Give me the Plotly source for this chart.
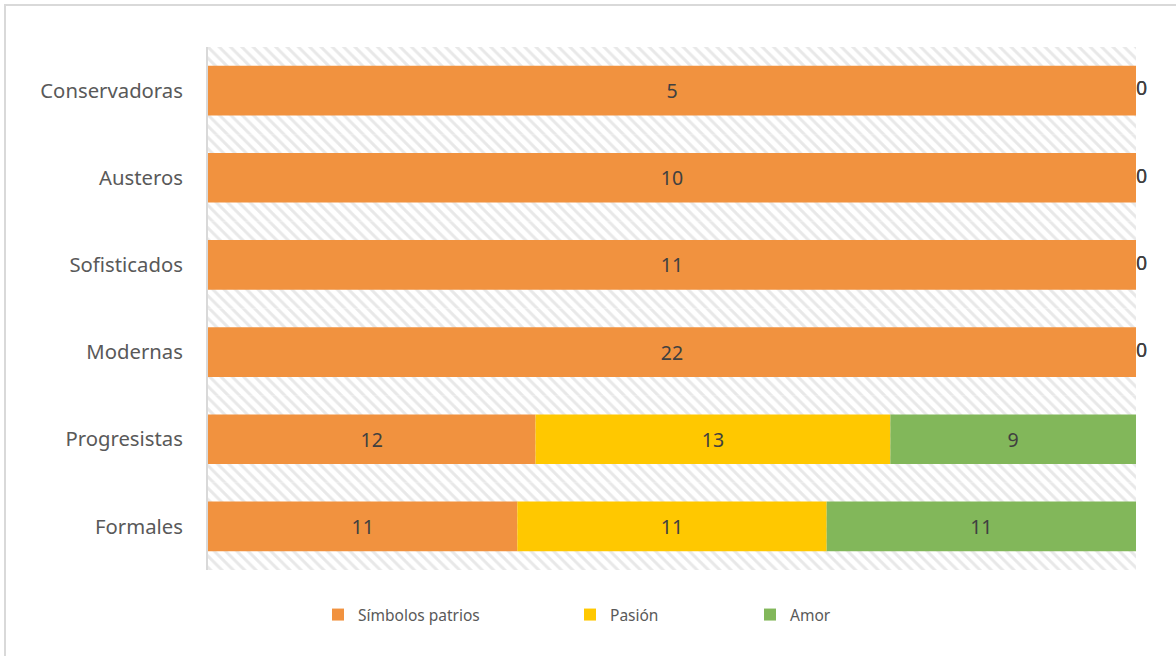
import plotly.graph_objects as go

# Segmentos de estilo y valores por asociación (barras 100 % apiladas)
categorias = ["Conservadoras", "Austeros", "Sofisticados", "Modernas", "Progresistas", "Formales"]
simbolos_patrios = [5, 10, 11, 22, 12, 11]
pasion = [0, 0, 0, 0, 13, 11]
amor = [0, 0, 0, 0, 9, 11]

series = [
    ("Símbolos patrios", simbolos_patrios, "#F1923F"),
    ("Pasión", pasion, "#FFC800"),
    ("Amor", amor, "#82B75A"),
]

texto_barras = "#404040"
texto_ejes = "#595959"
fuente = "Noto Sans"
totales = [sum(v) for v in zip(*[s[1] for s in series])]

fig = go.Figure()

# Fondo rayado del área de trazado
fig.add_trace(go.Bar(
    y=categorias, x=[1] * len(categorias), base=[0] * len(categorias),
    orientation="h", width=1.0, showlegend=False, hoverinfo="skip",
    marker=dict(color="white", line=dict(width=0),
                pattern=dict(shape="\\", fgcolor="#D2D2D2", bgcolor="white",
                             size=8, solidity=0.38)),
))

base = [0.0] * len(categorias)
ceros_x, ceros_y = [], []
leyendas = ["legend", "legend2", "legend3"]
for (nombre, valores, color), ley in zip(series, leyendas):
    frac = [v / t for v, t in zip(valores, totales)]
    fig.add_trace(go.Bar(
        y=categorias, x=frac, base=list(base), orientation="h", width=0.57,
        name=nombre, legend=ley,
        marker=dict(color=color, line=dict(width=0)),
        text=[str(v) if v > 0 else "" for v in valores],
        textposition="inside", insidetextanchor="middle",
        textfont=dict(family=fuente, size=19.5, color=texto_barras),
        hovertemplate="%{y}: %{text}<extra>" + nombre + "</extra>",
    ))
    for i, v in enumerate(valores):
        if v == 0:
            ceros_x.append(base[i] + frac[i])
            ceros_y.append(categorias[i])
    base = [b + f for b, f in zip(base, frac)]

# Etiquetas de los segmentos con valor cero
fig.add_trace(go.Scatter(
    x=ceros_x, y=ceros_y, mode="text", text=["0"] * len(ceros_x),
    textposition="middle right", cliponaxis=False, showlegend=False,
    textfont=dict(family=fuente, size=19.5, color=texto_barras), hoverinfo="skip",
))

leg = dict(orientation="h", yanchor="middle", xanchor="left", y=-0.086,
           font=dict(family=fuente, size=15.5, color=texto_ejes),
           bgcolor="rgba(0,0,0,0)", itemwidth=30)

fig.update_layout(
    width=1176, height=656,
    margin=dict(l=208, r=40, t=47, b=86),
    barmode="overlay",
    paper_bgcolor="white", plot_bgcolor="white",
    font=dict(family=fuente, size=17, color=texto_ejes),
    xaxis=dict(range=[0, 1], showgrid=False, zeroline=False,
               showticklabels=False, fixedrange=True),
    yaxis=dict(categoryorder="array", categoryarray=categorias[::-1],
               range=[-0.5, len(categorias) - 0.5],
               showgrid=False, zeroline=False, showline=True,
               linecolor="#D9D9D9", linewidth=2, ticks="", ticklabelstandoff=19,
               tickfont=dict(family=fuente, size=20.3, color=texto_ejes)),
    legend=dict(leg, x=(318 - 208) / 928),
    legend2=dict(leg, x=(570 - 208) / 928),
    legend3=dict(leg, x=(750 - 208) / 928),
    shapes=[dict(type="rect", xref="paper", yref="paper",
                 x0=(5 - 208) / 928, x1=(1185 - 208) / 928,
                 y0=(570 - 665) / 523, y1=(570 - 5) / 523,
                 line=dict(color="#D9D9D9", width=2), fillcolor="rgba(0,0,0,0)",
                 layer="below")],
)

fig.write_html("out.html")
